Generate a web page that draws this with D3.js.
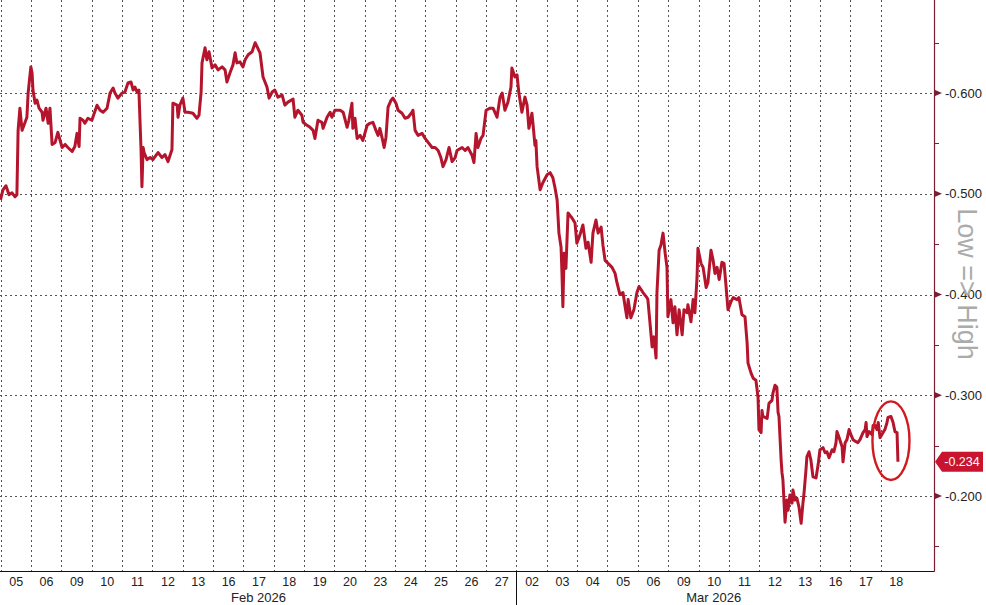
<!DOCTYPE html>
<html><head><meta charset="utf-8">
<script src="https://cdn.jsdelivr.net/npm/d3@7"></script>
<style>html,body{margin:0;padding:0;background:#fff;overflow:hidden}</style>
</head><body><svg id="c" width="986" height="605"></svg>
<script>
const dayLabels = ["05","06","09","10","11","12","13","16","17","18","19","20","23","24","25","26","27","02","03","04","05","06","09","10","11","12","13","16","17","18"];
const monthLabels = ["Feb 2026","Mar 2026"];
const monthStartIdx = [0,17];
const monthEndIdx = [17,30];
const yMajorTicks = [-0.6,-0.5,-0.4,-0.3,-0.2];
const yMinorTicks = [-0.65,-0.55,-0.45,-0.35,-0.25,-0.15];
const lastValue = -0.234;
const axisTitle = "Low => High";
const highlight = {t:29.34, v:-0.255, dt:0.61, dv:0.039};
// [trading-day index, value]
const seriesPoints = [
[0.00,-0.494],[0.08,-0.504],[0.18,-0.508],[0.28,-0.499],[0.38,-0.501],[0.48,-0.497],[0.54,-0.499],[0.58,-0.563],[0.64,-0.585],[0.71,-0.563],
[0.81,-0.571],[0.87,-0.576],[0.91,-0.600],[1.00,-0.626],[1.04,-0.620],[1.07,-0.603],[1.14,-0.590],[1.20,-0.593],[1.27,-0.585],[1.37,-0.581],
[1.40,-0.573],[1.50,-0.585],[1.57,-0.570],[1.63,-0.585],[1.70,-0.549],[1.80,-0.551],[1.89,-0.561],[2.03,-0.546],[2.13,-0.549],[2.22,-0.546],
[2.36,-0.542],[2.45,-0.547],[2.52,-0.560],[2.59,-0.547],[2.62,-0.575],[2.72,-0.573],[2.78,-0.570],[2.88,-0.575],[3.01,-0.573],[3.18,-0.588],
[3.28,-0.583],[3.38,-0.581],[3.51,-0.585],[3.61,-0.600],[3.71,-0.605],[3.77,-0.600],[3.87,-0.595],[4.00,-0.600],[4.10,-0.601],[4.20,-0.610],
[4.30,-0.611],[4.37,-0.603],[4.43,-0.606],[4.50,-0.601],[4.56,-0.603],[4.63,-0.544],[4.66,-0.507],[4.70,-0.546],[4.73,-0.541],[4.83,-0.534],
[4.93,-0.536],[5.02,-0.534],[5.19,-0.541],[5.32,-0.536],[5.42,-0.539],[5.52,-0.532],[5.65,-0.544],[5.68,-0.590],[5.82,-0.588],[5.85,-0.576],
[5.91,-0.588],[6.01,-0.595],[6.08,-0.581],[6.18,-0.581],[6.34,-0.580],[6.47,-0.575],[6.54,-0.578],[6.61,-0.601],[6.64,-0.630],[6.74,-0.645],
[6.80,-0.633],[6.87,-0.641],[6.97,-0.625],[7.07,-0.628],[7.17,-0.623],[7.30,-0.626],[7.40,-0.623],[7.46,-0.611],[7.56,-0.620],[7.66,-0.628],
[7.73,-0.640],[7.79,-0.630],[7.89,-0.631],[7.99,-0.626],[8.06,-0.633],[8.16,-0.638],[8.29,-0.641],[8.39,-0.650],[8.55,-0.640],[8.65,-0.616],
[8.78,-0.606],[8.85,-0.595],[8.95,-0.601],[9.04,-0.603],[9.14,-0.596],[9.28,-0.598],[9.37,-0.588],[9.47,-0.591],[9.64,-0.594],[9.70,-0.576],
[9.80,-0.583],[9.93,-0.578],[9.97,-0.571],[10.10,-0.568],[10.20,-0.566],[10.30,-0.563],[10.36,-0.555],[10.46,-0.573],[10.59,-0.571],[10.63,-0.565],
[10.76,-0.576],[10.86,-0.581],[10.92,-0.576],[11.02,-0.583],[11.19,-0.583],[11.29,-0.581],[11.42,-0.566],[11.48,-0.573],[11.58,-0.590],[11.61,-0.565],
[11.68,-0.575],[11.75,-0.555],[11.85,-0.558],[11.94,-0.553],[12.08,-0.568],[12.17,-0.570],[12.27,-0.571],[12.37,-0.563],[12.44,-0.558],[12.50,-0.565],
[12.57,-0.556],[12.64,-0.546],[12.70,-0.556],[12.77,-0.586],[12.87,-0.593],[12.93,-0.595],[13.03,-0.590],[13.10,-0.583],[13.23,-0.580],[13.33,-0.575],
[13.43,-0.576],[13.56,-0.581],[13.59,-0.583],[13.66,-0.563],[13.76,-0.558],[13.89,-0.560],[13.99,-0.555],[14.09,-0.551],[14.22,-0.546],[14.32,-0.546],
[14.42,-0.543],[14.51,-0.536],[14.58,-0.527],[14.68,-0.534],[14.78,-0.546],[14.88,-0.532],[14.98,-0.536],[15.04,-0.543],[15.21,-0.546],[15.31,-0.543],
[15.40,-0.546],[15.54,-0.538],[15.60,-0.531],[15.67,-0.560],[15.73,-0.546],[15.83,-0.555],[15.90,-0.558],[16.00,-0.583],[16.13,-0.585],[16.23,-0.585],
[16.36,-0.576],[16.46,-0.596],[16.53,-0.600],[16.62,-0.583],[16.72,-0.591],[16.82,-0.606],[16.85,-0.625],[16.95,-0.616],[17.02,-0.618],[17.08,-0.600],
[17.18,-0.581],[17.28,-0.596],[17.35,-0.588],[17.41,-0.565],[17.51,-0.580],[17.55,-0.568],[17.61,-0.548],[17.64,-0.553],[17.68,-0.527],[17.78,-0.504],
[17.87,-0.511],[18.01,-0.519],[18.11,-0.521],[18.20,-0.516],[18.27,-0.506],[18.34,-0.494],[18.40,-0.461],[18.47,-0.447],[18.50,-0.421],[18.53,-0.388],
[18.57,-0.441],[18.63,-0.426],[18.70,-0.481],[18.83,-0.476],[18.93,-0.471],[18.99,-0.451],[19.09,-0.459],[19.19,-0.469],[19.29,-0.446],[19.36,-0.452],
[19.46,-0.432],[19.52,-0.461],[19.62,-0.474],[19.69,-0.461],[19.79,-0.467],[19.85,-0.449],[19.92,-0.434],[20.02,-0.431],[20.15,-0.427],[20.25,-0.421],
[20.31,-0.412],[20.41,-0.400],[20.51,-0.402],[20.58,-0.388],[20.64,-0.377],[20.68,-0.395],[20.77,-0.377],[20.87,-0.385],[20.97,-0.402],[21.04,-0.408],
[21.17,-0.402],[21.30,-0.397],[21.33,-0.395],[21.40,-0.372],[21.47,-0.348],[21.53,-0.358],[21.60,-0.337],[21.63,-0.402],[21.70,-0.444],[21.76,-0.449],
[21.83,-0.461],[21.90,-0.441],[21.96,-0.427],[21.99,-0.378],[22.09,-0.395],[22.16,-0.372],[22.22,-0.388],[22.29,-0.360],[22.36,-0.385],[22.46,-0.360],
[22.52,-0.385],[22.62,-0.382],[22.65,-0.390],[22.75,-0.373],[22.82,-0.395],[22.88,-0.382],[22.95,-0.417],[22.98,-0.446],[23.08,-0.431],[23.15,-0.427],
[23.25,-0.407],[23.31,-0.412],[23.41,-0.444],[23.48,-0.434],[23.54,-0.421],[23.61,-0.427],[23.68,-0.415],[23.77,-0.432],[23.84,-0.431],[23.91,-0.407],
[23.97,-0.385],[24.07,-0.393],[24.14,-0.397],[24.27,-0.395],[24.33,-0.397],[24.43,-0.380],[24.53,-0.378],[24.60,-0.352],[24.63,-0.332],[24.73,-0.322],
[24.80,-0.317],[24.89,-0.315],[24.96,-0.298],[24.99,-0.266],[25.06,-0.263],[25.09,-0.285],[25.12,-0.279],[25.26,-0.277],[25.32,-0.292],[25.42,-0.295],
[25.45,-0.302],[25.52,-0.310],[25.58,-0.308],[25.62,-0.283],[25.65,-0.279],[25.72,-0.236],[25.75,-0.223],[25.78,-0.216],[25.85,-0.174],[25.91,-0.196],
[25.95,-0.186],[26.01,-0.201],[26.08,-0.193],[26.11,-0.206],[26.18,-0.196],[26.24,-0.198],[26.31,-0.189],[26.38,-0.173],[26.44,-0.193],[26.47,-0.201],
[26.54,-0.226],[26.57,-0.239],[26.64,-0.244],[26.70,-0.236],[26.77,-0.219],[26.87,-0.218],[26.94,-0.231],[27.00,-0.246],[27.10,-0.248],[27.17,-0.243],
[27.23,-0.244],[27.30,-0.238],[27.40,-0.246],[27.46,-0.244],[27.53,-0.253],[27.56,-0.264],[27.63,-0.258],[27.73,-0.249],[27.76,-0.234],[27.83,-0.253],
[27.89,-0.256],[27.96,-0.266],[28.02,-0.261],[28.09,-0.256],[28.19,-0.254],[28.25,-0.253],[28.32,-0.256],[28.42,-0.263],[28.49,-0.266],[28.52,-0.273],
[28.55,-0.259],[28.62,-0.264],[28.72,-0.261],[28.75,-0.270],[28.82,-0.270],[28.88,-0.266],[28.92,-0.273],[28.98,-0.258],[29.08,-0.263],[29.14,-0.266],
[29.21,-0.273],[29.24,-0.278],[29.34,-0.279],[29.41,-0.273],[29.47,-0.264],[29.54,-0.263],[29.57,-0.234]
];

const svg = d3.select("#c");
const FONT = "'Liberation Sans', Arial, sans-serif";
const plotRight = 934, plotBottom = 571;
const x = d3.scaleLinear().domain([0,30]).range([0.5,911]);
const y = d3.scaleLinear().domain([-0.6924,-0.1256]).range([0,plotBottom]);

// grid
const grid = svg.append("g");
grid.selectAll("line.v").data(d3.range(0,30)).join("line")
  .attr("x1", d=>Math.round(x(d))+0.5).attr("x2", d=>Math.round(x(d))+0.5)
  .attr("y1",0).attr("y2",plotBottom)
  .attr("stroke","#555").attr("stroke-width",1).attr("stroke-dasharray","2,3");
grid.selectAll("line.h").data(yMajorTicks).join("line")
  .attr("x1",0).attr("x2",plotRight)
  .attr("y1", d=>Math.round(y(d))+0.5).attr("y2", d=>Math.round(y(d))+0.5)
  .attr("stroke","#555").attr("stroke-width",1).attr("stroke-dasharray","2,3");

// series
svg.append("defs").append("clipPath").attr("id","clip").append("rect")
  .attr("x",0).attr("y",0).attr("width",plotRight).attr("height",plotBottom);
const line = d3.line().x(d=>x(d[0])).y(d=>y(d[1])).curve(d3.curveLinear);
svg.append("path").datum(seriesPoints).attr("clip-path","url(#clip)")
  .attr("d", line).attr("fill","none").attr("stroke","#b5152c")
  .attr("stroke-width",3).attr("stroke-linejoin","round");

// highlight ellipse
svg.append("ellipse")
  .attr("cx", x(highlight.t)).attr("cy", y(highlight.v))
  .attr("rx", x(highlight.t+highlight.dt)-x(highlight.t))
  .attr("ry", y(highlight.v+highlight.dv)-y(highlight.v))
  .attr("fill","none").attr("stroke","#d01a1f").attr("stroke-width",2.4);

// bottom axis
const xAxis = d3.axisBottom(x)
  .tickValues(d3.range(dayLabels.length).map(i=>i+0.5))
  .tickSize(0).tickPadding(6)
  .tickFormat((d,i)=>dayLabels[i]);
const gx = svg.append("g").attr("transform",`translate(0,${plotBottom})`).call(xAxis);
gx.select(".domain").remove();
gx.selectAll("text").attr("font-family",FONT).attr("font-size",12.5).attr("fill","#222");
svg.append("line").attr("x1",0).attr("x2",plotRight+0.5).attr("y1",plotBottom+0.5).attr("y2",plotBottom+0.5)
  .attr("stroke","#111").attr("stroke-width",1);
// month separator
monthStartIdx.slice(1).forEach(i=>{
  svg.append("line").attr("x1",Math.round(x(i))+0.5).attr("x2",Math.round(x(i))+0.5)
    .attr("y1",plotBottom).attr("y2",605).attr("stroke","#111").attr("stroke-width",1);
});
svg.selectAll("text.month").data(monthLabels).join("text")
  .attr("x",(d,i)=>(x(monthStartIdx[i])+x(monthEndIdx[i]))/2).attr("y",602)
  .attr("text-anchor","middle").attr("font-family",FONT).attr("font-size",13).attr("fill","#222")
  .text(d=>d);

// right axis
const axisColor = "#7c1d33";
svg.append("line").attr("x1",plotRight+0.5).attr("x2",plotRight+0.5).attr("y1",0).attr("y2",plotBottom+0.5)
  .attr("stroke",axisColor).attr("stroke-width",1.2);
const yAxis = d3.axisRight(y).tickValues(yMajorTicks).tickSize(0).tickPadding(11)
  .tickFormat(d=>d.toFixed(3));
const gy = svg.append("g").attr("transform",`translate(${plotRight},0)`).call(yAxis);
gy.select(".domain").remove();
gy.selectAll("text").attr("font-family",FONT).attr("font-size",13).attr("fill","#222");
svg.selectAll("path.tri").data(yMajorTicks).join("path")
  .attr("d", d=>{const yy=y(d); return `M${plotRight},${yy-3.5}L${plotRight+8},${yy}L${plotRight},${yy+3.5}Z`;})
  .attr("fill",axisColor);
svg.selectAll("line.minor").data(yMinorTicks).join("line")
  .attr("x1",plotRight).attr("x2",plotRight+5)
  .attr("y1",d=>Math.round(y(d))+0.5).attr("y2",d=>Math.round(y(d))+0.5)
  .attr("stroke",axisColor).attr("stroke-width",1);

// axis title
svg.append("text").attr("transform",`translate(967,284) rotate(90)`)
  .attr("text-anchor","middle").attr("dominant-baseline","central")
  .attr("font-family",FONT).attr("font-size",27).attr("fill","#ababab")
  .text(axisTitle);

// last value tag
const ly = y(lastValue);
svg.append("path")
  .attr("d",`M${plotRight+1},${ly}L${plotRight+8},${ly-10}L983,${ly-10}L983,${ly+10}L${plotRight+8},${ly+10}Z`)
  .attr("fill","#c8142f");
svg.append("text").attr("x",962).attr("y",ly).attr("text-anchor","middle")
  .attr("dominant-baseline","central").attr("font-family",FONT).attr("font-size",12.5)
  .attr("fill","#fff").text(lastValue.toFixed(3));
</script></body></html>
